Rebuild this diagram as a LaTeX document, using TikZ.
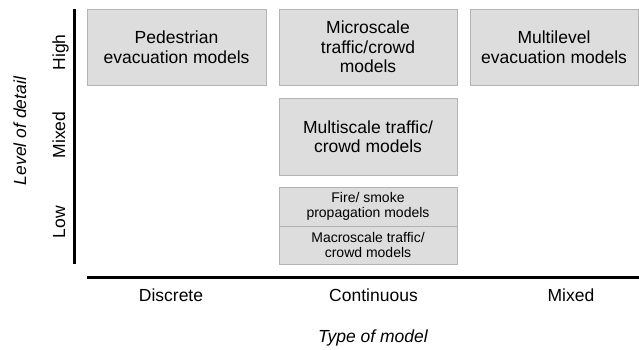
\documentclass[tikz,border=0pt]{standalone}
\usepackage{fontspec}
\setmainfont{Liberation Sans}
\begin{document}
\begin{tikzpicture}[x=1pt,y=-1pt,
  box/.style={draw=boxline, fill=boxfill, line width=0.9pt, inner sep=0pt, align=center,
    font=\fontsize{17.5}{19.5}\selectfont},
  smallbox/.style={box, font=\fontsize{14}{15.5}\selectfont},
  lbl/.style={font=\fontsize{17.5}{19.5}\selectfont, inner sep=0pt},
  axis/.style={line width=3pt, black}]
\definecolor{boxfill}{HTML}{DDDDDD}
\definecolor{boxline}{HTML}{B3B3B3}
\useasboundingbox (0,0) rectangle (639,349);
% boxes
\node[box, minimum width=179pt, minimum height=76pt] (ped) at (176.5,47) {Pedestrian\\evacuation models};
\node[box, minimum width=178pt, minimum height=76pt] (micro) at (368,47) {Microscale\\traffic/crowd\\models};
\node[box, minimum width=168pt, minimum height=76pt] (multil) at (554,47) {Multilevel\\evacuation models};
\node[box, minimum width=178pt, minimum height=77pt] (multis) at (368,136.5) {Multiscale traffic/\\crowd models};
\node[smallbox, minimum width=178pt, minimum height=39pt] (fire) at (368,206.5) {Fire/ smoke\\propagation models};
\node[smallbox, minimum width=178pt, minimum height=38pt] (macro) at (368,245) {Macroscale traffic/\\crowd models};
% axes
\coordinate (vtop) at (74,9);
\coordinate (vbot) at (74,264);
\coordinate (hl) at (87,277);
\coordinate (hr) at (639,277);
\draw[axis] (vtop) -- (vbot);
\draw[axis] (hl) -- (hr);
% y labels
\node[lbl, rotate=90, anchor=base] (high) at (65,52.5) {High};
\node[lbl, rotate=90, anchor=base] (mixy) at (65,135) {Mixed};
\node[lbl, rotate=90, anchor=base] (low) at (65,222) {Low};
\node[lbl, rotate=90, anchor=base, font=\fontsize{17.5}{19.5}\selectfont\itshape] (ylab) at (26,131) {Level of detail};
% x labels
\node[lbl, anchor=base] (disc) at (171,301) {Discrete};
\node[lbl, anchor=base] (cont) at (373.5,301) {Continuous};
\node[lbl, anchor=base] (mixx) at (571,301) {Mixed};
\node[lbl, anchor=base, font=\fontsize{17.5}{19.5}\selectfont\itshape] (xlab) at (373,342) {Type of model};
\end{tikzpicture}
\end{document}
